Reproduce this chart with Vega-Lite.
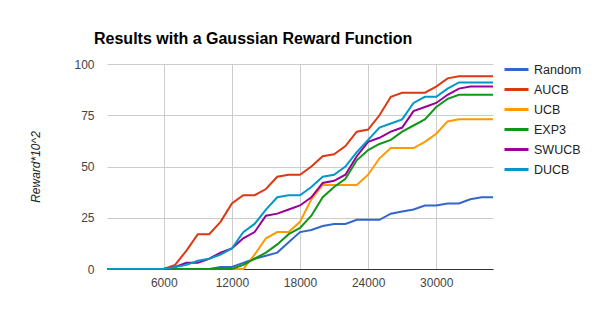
{
  "$schema": "https://vega.github.io/schema/vega-lite/v6.json",
  "width": 386,
  "height": 205,
  "autosize": {"type": "none"},
  "padding": {"left": 107, "top": 64, "right": 107, "bottom": 64},
  "background": "white",
  "title": {
    "text": "Results with a Gaussian Reward Function",
    "font": "Liberation Sans",
    "fontSize": 16,
    "fontWeight": "bold",
    "color": "#000000",
    "anchor": "start",
    "frame": "group",
    "dx": -13,
    "dy": 24,
    "baseline": "alphabetic",
    "offset": 20
  },
  "config": {
    "view": {"stroke": null},
    "font": "Liberation Sans"
  },
  "datasets": {
    "raw": [
      {"Random": 0, "AUCB": 0, "UCB": 0, "EXP3": 0, "SWUCB": 0, "DUCB": 0, "t": 1000},
      {"Random": 0, "AUCB": 0, "UCB": 0, "EXP3": 0, "SWUCB": 0, "DUCB": 0, "t": 2000},
      {"Random": 0, "AUCB": 0, "UCB": 0, "EXP3": 0, "SWUCB": 0, "DUCB": 0, "t": 3000},
      {"Random": 0, "AUCB": 0, "UCB": 0, "EXP3": 0, "SWUCB": 0, "DUCB": 0, "t": 4000},
      {"Random": 0, "AUCB": 0, "UCB": 0, "EXP3": 0, "SWUCB": 0, "DUCB": 0, "t": 5000},
      {"Random": 0, "AUCB": 0, "UCB": 0, "EXP3": 0, "SWUCB": 0, "DUCB": 0, "t": 6000},
      {"Random": 0, "AUCB": 2, "UCB": 0, "EXP3": 0, "SWUCB": 1, "DUCB": 1, "t": 7000},
      {"Random": 0, "AUCB": 9, "UCB": 0, "EXP3": 0, "SWUCB": 3, "DUCB": 2, "t": 8000},
      {"Random": 0, "AUCB": 17, "UCB": 0, "EXP3": 0, "SWUCB": 3, "DUCB": 4, "t": 9000},
      {"Random": 0, "AUCB": 17, "UCB": 0, "EXP3": 0, "SWUCB": 5, "DUCB": 5, "t": 10000},
      {"Random": 1, "AUCB": 23, "UCB": 0, "EXP3": 0, "SWUCB": 8, "DUCB": 7, "t": 11000},
      {"Random": 1, "AUCB": 32, "UCB": 0, "EXP3": 0, "SWUCB": 10, "DUCB": 10, "t": 12000},
      {"Random": 3, "AUCB": 36, "UCB": 0, "EXP3": 2, "SWUCB": 15, "DUCB": 18, "t": 13000},
      {"Random": 5, "AUCB": 36, "UCB": 7, "EXP3": 5, "SWUCB": 18, "DUCB": 22, "t": 14000},
      {"Random": 6.5, "AUCB": 39, "UCB": 15, "EXP3": 8, "SWUCB": 26, "DUCB": 29, "t": 15000},
      {"Random": 8, "AUCB": 45, "UCB": 18, "EXP3": 12, "SWUCB": 27, "DUCB": 35, "t": 16000},
      {"Random": 13, "AUCB": 46, "UCB": 18, "EXP3": 17, "SWUCB": 29, "DUCB": 36, "t": 17000},
      {"Random": 18, "AUCB": 46, "UCB": 23, "EXP3": 20, "SWUCB": 31, "DUCB": 36, "t": 18000},
      {"Random": 19, "AUCB": 50, "UCB": 34, "EXP3": 26, "SWUCB": 35, "DUCB": 40, "t": 19000},
      {"Random": 21, "AUCB": 55, "UCB": 41, "EXP3": 35, "SWUCB": 42, "DUCB": 45, "t": 20000},
      {"Random": 22, "AUCB": 56, "UCB": 41, "EXP3": 40, "SWUCB": 43, "DUCB": 46, "t": 21000},
      {"Random": 22, "AUCB": 60, "UCB": 41, "EXP3": 44, "SWUCB": 46, "DUCB": 50, "t": 22000},
      {"Random": 24, "AUCB": 67, "UCB": 41, "EXP3": 53, "SWUCB": 55, "DUCB": 57, "t": 23000},
      {"Random": 24, "AUCB": 68, "UCB": 46, "EXP3": 58, "SWUCB": 62, "DUCB": 63, "t": 24000},
      {"Random": 24, "AUCB": 75, "UCB": 54, "EXP3": 61, "SWUCB": 64, "DUCB": 69, "t": 25000},
      {"Random": 27, "AUCB": 84, "UCB": 59, "EXP3": 63, "SWUCB": 67, "DUCB": 71, "t": 26000},
      {"Random": 28, "AUCB": 86, "UCB": 59, "EXP3": 67, "SWUCB": 69, "DUCB": 73, "t": 27000},
      {"Random": 29, "AUCB": 86, "UCB": 59, "EXP3": 70, "SWUCB": 77, "DUCB": 81, "t": 28000},
      {"Random": 31, "AUCB": 86, "UCB": 62, "EXP3": 73, "SWUCB": 79, "DUCB": 84, "t": 29000},
      {"Random": 31, "AUCB": 89, "UCB": 66, "EXP3": 79, "SWUCB": 81, "DUCB": 84, "t": 30000},
      {"Random": 32, "AUCB": 93, "UCB": 72, "EXP3": 83, "SWUCB": 85, "DUCB": 88, "t": 31000},
      {"Random": 32, "AUCB": 94, "UCB": 73, "EXP3": 85, "SWUCB": 88, "DUCB": 91, "t": 32000},
      {"Random": 34, "AUCB": 94, "UCB": 73, "EXP3": 85, "SWUCB": 89, "DUCB": 91, "t": 33000},
      {"Random": 35, "AUCB": 94, "UCB": 73, "EXP3": 85, "SWUCB": 89, "DUCB": 91, "t": 34000},
      {"Random": 35, "AUCB": 94, "UCB": 73, "EXP3": 85, "SWUCB": 89, "DUCB": 91, "t": 35000}
    ]
  },
  "data": {"name": "raw"},
  "transform": [
    {"fold": ["Random", "AUCB", "UCB", "EXP3", "SWUCB", "DUCB"], "as": ["series", "reward"]}
  ],
  "mark": {"type": "line", "strokeWidth": 2, "interpolate": "linear"},
  "encoding": {
    "x": {
      "field": "t",
      "type": "quantitative",
      "scale": {"domain": [1000, 35000], "nice": false, "zero": false},
      "axis": {
        "values": [6000, 12000, 18000, 24000, 30000],
        "format": "d",
        "title": null,
        "grid": true,
        "gridColor": "#cccccc",
        "gridWidth": 1,
        "ticks": false,
        "domain": true,
        "domainColor": "#333333",
        "domainWidth": 1,
        "labelFont": "Liberation Sans",
        "labelFontSize": 12,
        "labelColor": "#444444",
        "labelPadding": 8
      }
    },
    "y": {
      "field": "reward",
      "type": "quantitative",
      "scale": {"domain": [0, 100], "nice": false},
      "axis": {
        "values": [0, 25, 50, 75, 100],
        "title": "Reward*10^2",
        "titleFont": "Liberation Sans",
        "titleFontSize": 12,
        "titleFontStyle": "italic",
        "titleFontWeight": "normal",
        "titleColor": "#222222",
        "titlePadding": 31,
        "grid": true,
        "gridColor": "#cccccc",
        "ticks": false,
        "domain": false,
        "labelFont": "Liberation Sans",
        "labelFontSize": 12,
        "labelColor": "#444444",
        "labelPadding": 13
      }
    },
    "color": {
      "field": "series",
      "type": "nominal",
      "sort": ["Random", "AUCB", "UCB", "EXP3", "SWUCB", "DUCB"],
      "scale": {
        "domain": ["Random", "AUCB", "UCB", "EXP3", "SWUCB", "DUCB"],
        "range": ["#3366cc", "#dc3912", "#ff9900", "#109618", "#990099", "#0099c6"]
      },
      "legend": {
        "orient": "none",
        "legendX": 396,
        "legendY": -8,
        "title": null,
        "symbolType": "stroke",
        "symbolSize": 576,
        "symbolStrokeWidth": 3,
        "labelFont": "Liberation Sans",
        "labelFontSize": 12.5,
        "labelColor": "#222222",
        "labelOffset": 4,
        "rowPadding": -5.6
      }
    }
  }
}
